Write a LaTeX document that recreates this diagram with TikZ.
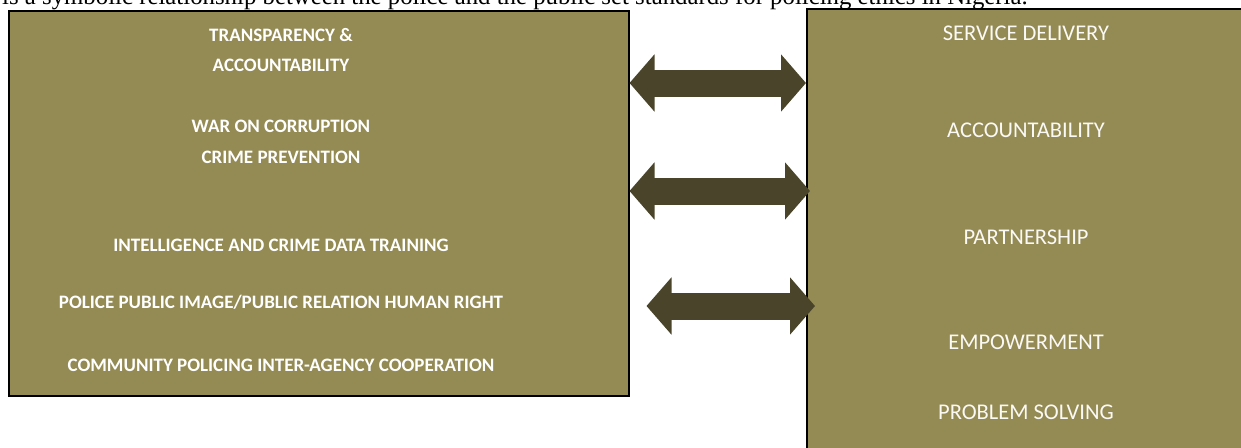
\documentclass[tikz,border=0pt]{standalone}
\usepackage{fontspec}
\setmainfont{Liberation Serif}
\newfontfamily\calibri{Carlito}
\usetikzlibrary{arrows.meta}
\definecolor{olivebox}{HTML}{948A54}
\definecolor{olivedark}{HTML}{4A452A}

\begin{document}
\begin{tikzpicture}[x=1pt,y=-1pt,
  box/.style={draw=black,line width=1.5pt,fill=olivebox,inner sep=0pt},
  lefttext/.style={text=white,font=\calibri\bfseries\fontsize{19}{23}\selectfont},
  righttext/.style={text=white!95!olivebox,font=\calibri\fontsize{22.5}{26}\selectfont},
  link/.style={draw=olivedark,line width=27pt,
    {Triangle[width=56pt,length=25pt]}-{Triangle[width=56pt,length=25pt]}}]

\useasboundingbox (0,0) rectangle (1241,447);
\clip (0,0) rectangle (1241,447);

\node[anchor=base west,inner sep=0pt,font=\fontsize{24.8}{28}\selectfont] (caption) at (2,5)
  {is a symbolic relationship between the police and the public set standards for policing ethics in Nigeria.};

% the two boxes
\node[box,anchor=north west,minimum width=620pt,minimum height=385pt] (lbox) at (8,10) {};
\node[box,anchor=north west,minimum width=460pt,minimum height=460pt] (rbox) at (806,8) {};

% police side
\node[lefttext] (transp)  at (281,35)  {TRANSPARENCY \&};
\node[lefttext] (account) at (281,65)  {ACCOUNTABILITY};
\node[lefttext] (war)     at (281,126) {WAR ON CORRUPTION};
\node[lefttext] (crime)   at (281,157) {CRIME PREVENTION};
\node[lefttext] (intel)   at (281,245) {INTELLIGENCE AND CRIME DATA TRAINING};
\node[lefttext] (image)   at (281,302) {POLICE PUBLIC IMAGE/PUBLIC RELATION HUMAN RIGHT};
\node[lefttext] (commun)  at (281,365) {COMMUNITY POLICING INTER-AGENCY COOPERATION};

% public side
\node[righttext] (service) at (1026,33)  {SERVICE DELIVERY};
\node[righttext] (raccount) at (1026,130) {ACCOUNTABILITY};
\node[righttext] (partner) at (1026,237) {PARTNERSHIP};
\node[righttext] (empower) at (1026,342) {EMPOWERMENT};
\node[righttext] (problem) at (1026,412) {PROBLEM SOLVING};

% links
\draw[link] (lbox.east |- 0,83) -- (rbox.west |- 0,83);
\draw[link] (lbox.east |- 0,191) -- ([xshift=4pt]rbox.west |- 0,191);
\draw[link] ([xshift=17pt]lbox.east |- 0,306) -- ([xshift=9pt]rbox.west |- 0,306);

\end{tikzpicture}
\end{document}
